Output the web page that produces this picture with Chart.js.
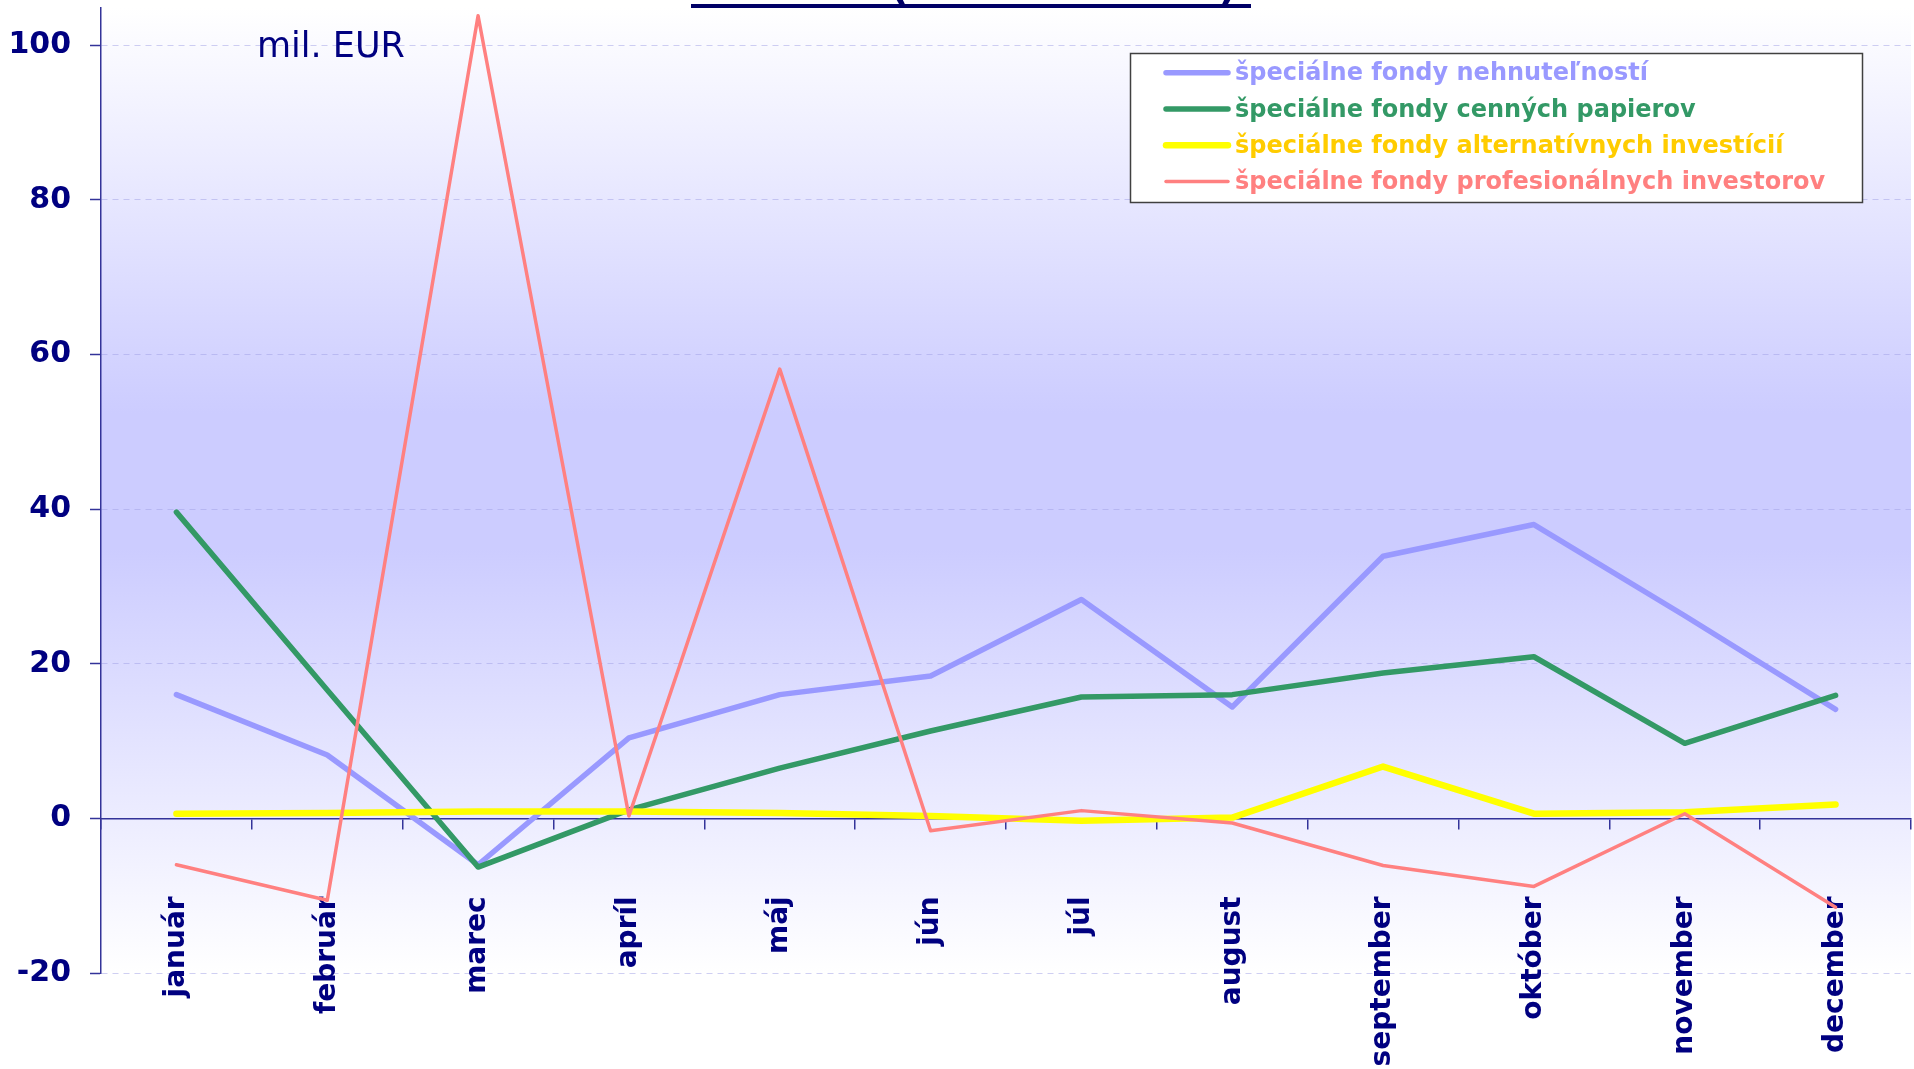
<!DOCTYPE html>
<html>
<head>
<meta charset="utf-8">
<title>Špeciálne fondy</title>
<script src="https://cdn.jsdelivr.net/npm/chart.js@4/dist/chart.umd.min.js"></script>
<style>
    body { margin: 0; background: #fff; overflow: hidden; }
    canvas { display: block; }
</style>
</head>
<body>
<canvas id="FondyChart" width="1914" height="1069"></canvas>
<script>
// data (mil. EUR)
var months = ["január", "február", "marec", "apríl", "máj", "jún", "júl", "august", "september", "október", "november", "december"];
var nehnutelnosti = [16.0, 8.2, -6.0, 10.4, 16.0, 18.4, 28.3, 14.4, 33.9, 38.0, 26.2, 14.1];
var cennePapiere = [39.6, 16.6, -6.3, 1.1, 6.5, 11.3, 15.7, 16.0, 18.8, 20.9, 9.7, 15.9];
var alternativne = [0.6, 0.7, 0.9, 0.9, 0.7, 0.3, -0.3, 0.1, 6.7, 0.6, 0.8, 1.8];
var profesionalne = [-6.0, -10.6, 103.8, 0.3, 58.1, -1.6, 1.0, -0.6, -6.1, -8.8, 0.6, -11.5];
var yTicks = [-20, 0, 20, 40, 60, 80, 100];

var seriesNames = [
    "špeciálne fondy nehnuteľností",
    "špeciálne fondy cenných papierov",
    "špeciálne fondy alternatívnych investícií",
    "špeciálne fondy profesionálnych investorov"
];
var lineColors = ["#9999ff", "#339966", "#ffff00", "#ff8080"];
var textColors = ["#9999ff", "#339966", "#ffcc00", "#ff8080"];
var navy = "#000080";

//plot background
var plotBackground = {
    id: 'plotBackground',
    beforeDraw: function(chart) {
        var c = chart.ctx;
        var a = chart.chartArea;
        var g = c.createLinearGradient(0, a.top, 0, a.bottom);
        g.addColorStop(0, '#ffffff');
        g.addColorStop(0.42, '#ccccff');
        g.addColorStop(0.56, '#ccccff');
        g.addColorStop(1, '#ffffff');
        c.save();
        c.fillStyle = g;
        c.fillRect(a.left, a.top, a.right - a.left, a.bottom - a.top);
        c.restore();
    }
};

//title rest, unit and legend box
var extras = {
    id: 'extras',
    afterDraw: function(chart) {
        var c = chart.ctx;
        c.save();

        // cut title: only underline and bottoms of parentheses visible
        c.fillStyle = '#000066';
        c.fillRect(691, 4, 560, 4);
        c.font = 'bold 40px "DejaVu Sans"';
        c.textBaseline = 'alphabetic';
        c.textAlign = 'left';
        c.fillText("(", 890, -1);
        c.textAlign = 'right';
        c.fillText(")", 1237, -1);

        // unit
        c.textAlign = 'left';
        c.fillStyle = navy;
        c.font = '35px "DejaVu Sans"';
        c.fillText("mil. EUR", 257, 57);

        // legend
        c.fillStyle = '#ffffff';
        c.fillRect(1130, 53, 732, 150);
        c.strokeStyle = '#404040';
        c.lineWidth = 1.5;
        c.strokeRect(1130.5, 53.5, 732, 149);
        c.font = 'bold 24px "DejaVu Sans"';
        chart.data.datasets.forEach(function(ds, i) {
            var y = 72.7 + i * 36.3;
            c.strokeStyle = ds.borderColor;
            c.lineWidth = ds.borderWidth;
            c.lineCap = 'round';
            c.beginPath();
            c.moveTo(1166, y);
            c.lineTo(1228, y);
            c.stroke();
            c.fillStyle = textColors[i];
            c.fillText(ds.label, 1235, y + 7.5);
        });
        c.restore();
    }
};

var widths = [5.5, 5.5, 6.5, 3.5];
var values = [nehnutelnosti, cennePapiere, alternativne, profesionalne];
var datasets = values.map(function(v, i) {
    return {
        label: seriesNames[i],
        data: v,
        borderColor: lineColors[i],
        backgroundColor: lineColors[i],
        borderWidth: widths[i],
        borderCapStyle: 'round',
        borderJoinStyle: 'round',
        pointRadius: 0,
        tension: 0,
        order: 3 - i
    };
});

var ctx = document.getElementById("FondyChart").getContext('2d');
var fondyChart = new Chart(ctx, {
    type: 'line',
    data: {
        labels: months,
        datasets: datasets
    },
    options: {
        responsive: false,
        animation: false,
        devicePixelRatio: 1,
        layout: { padding: { top: 8, bottom: 96, left: 0, right: 3 } },
        plugins: {
            legend: { display: false },
            tooltip: { enabled: false },
            title: { display: false }
        },
        scales: {
            x: {
                type: 'category',
                offset: true,
                position: { y: 0 },
                afterFit: function(scale) {
                    scale.height = 0;
                    scale.paddingLeft = 0;
                    scale.paddingRight = 0;
                },
                grid: {
                    drawOnChartArea: false,
                    drawTicks: true,
                    tickLength: 10,
                    color: '#333399',
                    lineWidth: 1.5,
                    offset: true
                },
                border: { display: true, color: '#333399', width: 1.5 },
                ticks: {
                    autoSkip: false,
                    minRotation: 90,
                    maxRotation: 90,
                    padding: 68,
                    color: navy,
                    font: { family: '"DejaVu Sans"', size: 28, weight: 'bold' }
                }
            },
            y: {
                min: -20,
                max: 104.8,
                afterBuildTicks: function(scale) {
                    scale.ticks = yTicks.map(function(v) { return { value: v }; });
                },
                afterFit: function(scale) {
                    scale.width = 101;
                    scale.paddingTop = 0;
                    scale.paddingBottom = 0;
                },
                grid: {
                    color: function(c) {
                        return c.tick && c.tick.value === 0 ? 'rgba(0,0,0,0)' : 'rgba(160,160,230,0.5)';
                    },
                    lineWidth: 1,
                    tickLength: 11,
                    tickColor: '#333399',
                    tickWidth: 1.5
                },
                border: { display: true, color: '#333399', width: 1.5, dash: [6, 5] },
                ticks: {
                    stepSize: 20,
                    padding: 19,
                    color: navy,
                    font: { family: '"DejaVu Sans"', size: 30, weight: 'bold' }
                }
            }
        }
    },
    plugins: [plotBackground, extras]
});
</script>
</body>
</html>
